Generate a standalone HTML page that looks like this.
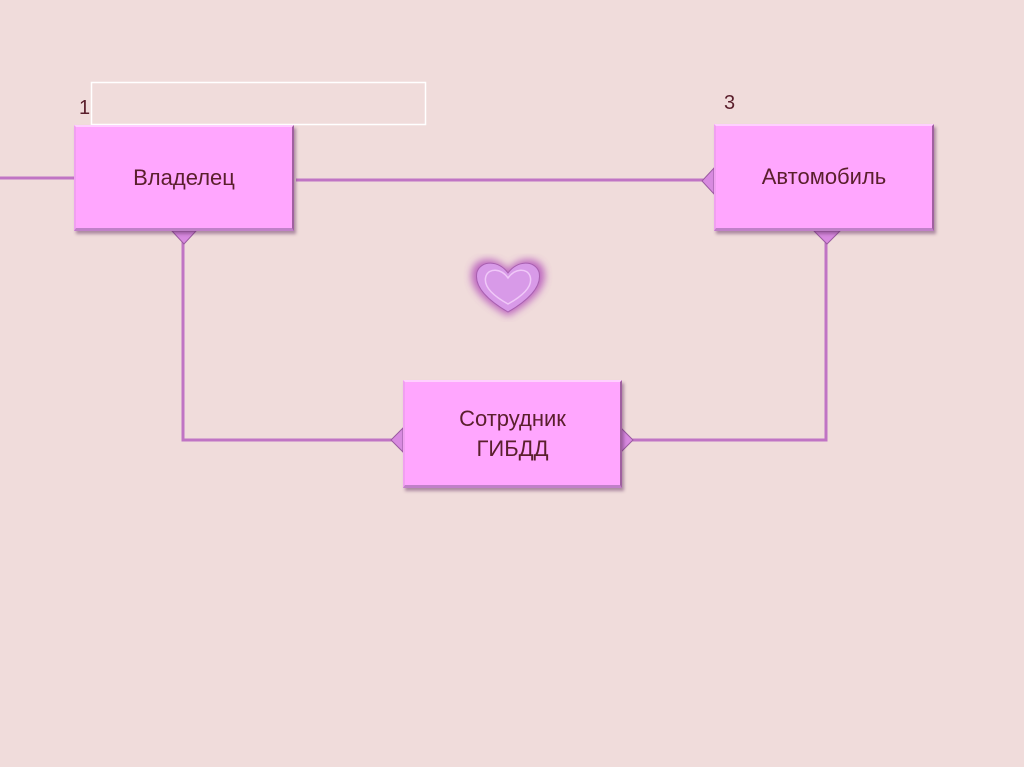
<!DOCTYPE html>
<html><head><meta charset="utf-8"><style>
html,body{margin:0;padding:0}
body{width:1024px;height:767px;background:#f0dcdb;position:relative;overflow:hidden;font-family:"Liberation Sans","DejaVu Sans",sans-serif}
.box{position:absolute;background:#ffa6fe;border-top:2px solid #ffd0ff;border-left:2px solid #f0a0f0;border-right:2px solid #a060a0;border-bottom:3px solid #c080c8;box-shadow:2px 3px 3px rgba(90,40,90,.45);display:flex;align-items:center;justify-content:center;text-align:center;color:#5a1f2c;font-size:22px;line-height:30px;box-sizing:border-box}
.lbl{position:absolute;color:#5a1f2c;font-size:20px}
</style></head><body>
<svg width="1024" height="767" style="position:absolute;left:0;top:0">
<g stroke="#c074c4" stroke-width="3" fill="none">
<line x1="0" y1="178" x2="76" y2="178"/>
<line x1="296" y1="180" x2="712" y2="180"/>
<polyline points="183,238 183,440 398,440"/>
<polyline points="826,238 826,440 626,440"/>
</g>
<g fill="#d88ae0" stroke="#9a5aa0" stroke-width="1">
<polygon points="172,231 196,231 184,244"/>
<polygon points="814,231 840,231 827,244"/>
<polygon points="714,168 714,194 702,181"/>
<polygon points="403,428 403,452 391,440"/>
<polygon points="621,428 621,452 633,440"/>
</g>
<rect x="91.5" y="82.5" width="334" height="42" fill="none" stroke="#fff" stroke-width="1.5"/>
<defs><filter id="g"><feGaussianBlur stdDeviation="4"/></filter></defs>
<path d="M508,316 C480,300 468,285 472,270 C476,256 498,256 508,270 C518,256 540,256 544,270 C548,285 536,300 508,316Z" fill="#b04ab8" filter="url(#g)" opacity=".8"/>
<path d="M508,312 C484,298 474,285 477,272 C481,260 499,260 508,273 C517,260 535,260 539,272 C542,285 532,298 508,312Z" fill="#d89ae8" stroke="#a860b0"/>
<path d="M508,304 C490,294 483,285 486,276 C489,268 501,268 508,278 C515,268 527,268 530,276 C533,285 526,294 508,304Z" fill="none" stroke="#f0c8f8" stroke-width="1.5"/>
</svg>
<div class="lbl" style="left:79px;top:97px">1</div>
<div class="lbl" style="left:724px;top:92px">3</div>
<div class="box" style="left:74px;top:125px;width:220px;height:106px">Владелец</div>
<div class="box" style="left:714px;top:124px;width:220px;height:107px">Автомобиль</div>
<div class="box" style="left:403px;top:380px;width:219px;height:108px">Сотрудник<br>ГИБДД</div>
</body></html>
